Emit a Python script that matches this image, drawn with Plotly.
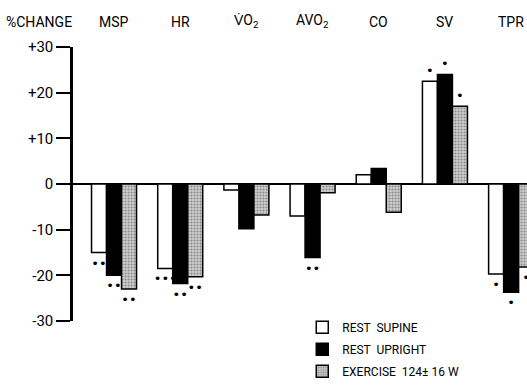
import plotly.graph_objects as go

categories = ["MSP", "HR", "V\u0307O<sub>2</sub>", "AVO<sub>2</sub>", "CO", "SV", "TPR"]
rest_supine = [-15, -18.5, -1.3, -7, 2.0, 22.5, -19.7]
rest_upright = [-20, -21.8, -9.8, -16.1, 3.4, 24.0, -23.7]
exercise = [-23, -20.3, -6.8, -1.9, -6.2, 17.0, -18.2]
sig_supine = ["••", "•••", " ", " ", " ", "•", "•"]
sig_upright = ["••", "••", " ", "••", " ", "•", "•"]
sig_exercise = ["••", "••", " ", " ", " ", "•", "•"]
series_names = ["REST  SUPINE", "REST  UPRIGHT", "EXERCISE  124\u00b1 16 W"]
y_ticks = [30, 20, 10, 0, -10, -20, -30]
y_tick_labels = ["+30", "+20", "+10", "0", "-10", "-20", "-30"]

FONT = "Roboto, Liberation Sans Narrow, sans-serif"
xidx = list(range(len(categories)))

fig = go.Figure()
styles = [
    dict(color="white", pattern=None),
    dict(color="black", pattern=None),
    dict(color="#c0c0c0", pattern=dict(shape=".", fgcolor="#444444", bgcolor="#cfcfcf", size=3, solidity=0.4)),
]
for k, (name, vals, sig, st) in enumerate(zip(series_names, [rest_supine, rest_upright, exercise],
                                             [sig_supine, sig_upright, sig_exercise], styles)):
    marker = dict(color=st["color"], line=dict(color="black", width=1.5))
    if st["pattern"]:
        marker["pattern"] = st["pattern"]
    fig.add_trace(go.Bar(
        x=xidx, y=vals, name=name, marker=marker, legendgroup=f"g{k}",
        text=sig, textposition="outside", constraintext="none",
        textfont=dict(size=13, color="black", family="DejaVu Sans"),
        cliponaxis=False,
    ))

for i, c in enumerate(categories):
    fig.add_annotation(x=i, y=1.0, xref="x", yref="paper", yshift=15, yanchor="bottom",
                       text=c, showarrow=False, font=dict(size=14, color="black", family=FONT))
fig.add_annotation(x=0, y=1.0, xref="paper", yref="paper", xshift=-69, yshift=15, xanchor="left",
                   yanchor="bottom", text="%CHANGE", showarrow=False,
                   font=dict(size=14, color="black", family=FONT))

fig.update_layout(
    width=527, height=387,
    margin=dict(l=73, r=0, t=47, b=66, autoexpand=False),
    paper_bgcolor="white", plot_bgcolor="white",
    barmode="group", bargap=0.32, bargroupgap=0,
    showlegend=True,
    legend=dict(x=0.505, y=0.03, xanchor="left", yanchor="top",
                font=dict(size=12, color="black", family=FONT),
                bgcolor="rgba(0,0,0,0)", tracegroupgap=3),
    font=dict(family=FONT, color="black"),
    xaxis=dict(range=[-0.62, 6.24], showticklabels=False, showgrid=False, zeroline=False,
               ticks="", showline=False, automargin=False),
    yaxis=dict(range=[-30, 30], tickvals=y_ticks, ticktext=y_tick_labels,
               ticks="outside", ticklen=14, tickwidth=1.5, tickcolor="black",
               showline=True, linecolor="black", linewidth=2.5, automargin=False,
               showgrid=False, zeroline=True, zerolinecolor="black", zerolinewidth=1.5,
               tickfont=dict(size=15, color="black", family=FONT)),
)

fig.write_html("out.html", config={"displayModeBar": False},
               post_script="document.body.style.margin='0';")
